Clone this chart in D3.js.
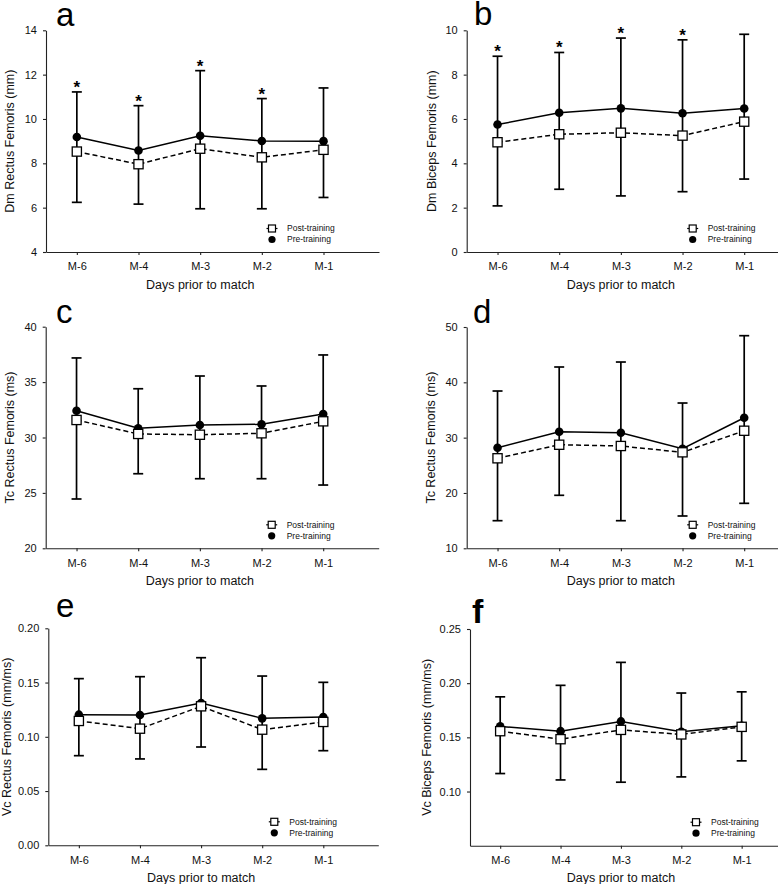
<!DOCTYPE html>
<html>
<head>
<meta charset="utf-8">
<script src="https://cdn.jsdelivr.net/npm/d3@7"></script>
<style>
  body { margin: 0; background: #fff; }
  svg { display: block; }
</style>
</head>
<body>
<div id="chart"></div>
<script>
// categories
var days = ["M-6", "M-4", "M-3", "M-2", "M-1"];
var legendLabels = ["Post-training", "Pre-training"];

// a: Dm Rectus Femoris (mm)
var dmRfPre  = [9.19, 8.58, 9.24, 9.01, 9.0];
var dmRfPost = [8.53, 7.96, 8.66, 8.27, 8.61];
var dmRfUp   = [11.22, 10.6, 12.18, 10.92, 11.4];
var dmRfLow  = [6.24, 6.16, 5.95, 5.95, 6.46];
var dmRfStar = [1, 1, 1, 1, 0];

// b: Dm Biceps Femoris (mm)
var dmBfPre  = [5.75, 6.28, 6.48, 6.26, 6.47];
var dmBfPost = [4.95, 5.31, 5.38, 5.25, 5.88];
var dmBfUp   = [8.83, 9.0, 9.65, 9.57, 9.82];
var dmBfLow  = [2.08, 2.83, 2.53, 2.72, 3.29];
var dmBfStar = [1, 1, 1, 1, 0];

// c: Tc Rectus Femoris (ms)
var tcRfPre  = [32.42, 30.83, 31.13, 31.19, 32.12];
var tcRfPost = [31.58, 30.32, 30.25, 30.38, 31.46];
var tcRfUp   = [37.18, 34.4, 35.55, 34.65, 37.45];
var tcRfLow  = [24.45, 26.73, 26.28, 26.28, 25.71];

// d: Tc (second muscle), label as printed
var tcBfPre  = [28.18, 31.07, 30.89, 28.0, 33.6];
var tcBfPost = [26.27, 28.72, 28.49, 27.35, 31.25];
var tcBfUp   = [38.43, 42.77, 43.67, 36.26, 48.43];
var tcBfLow  = [14.99, 19.58, 14.99, 15.84, 18.13];

// e: Vc Rectus Femoris (mm/ms)
var vcRfPre  = [0.1204, 0.1201, 0.1312, 0.117, 0.1183];
var vcRfPost = [0.1146, 0.1075, 0.1281, 0.1066, 0.1137];
var vcRfUp   = [0.1536, 0.1554, 0.1729, 0.156, 0.1502];
var vcRfLow  = [0.0826, 0.0796, 0.0906, 0.070, 0.0872];

// f: Vc Biceps Femoris (mm/ms)
var vcBfPre  = [0.1601, 0.1557, 0.1647, 0.1551, 0.1606];
var vcBfPost = [0.1557, 0.1483, 0.1569, 0.1527, 0.1597];
var vcBfUp   = [0.1874, 0.198, 0.2192, 0.1909, 0.192];
var vcBfLow  = [0.1166, 0.1107, 0.1086, 0.1135, 0.1283];

var none = [0, 0, 0, 0, 0];

var font = "'Liberation Sans', Arial, sans-serif";

var svg = d3.select("#chart")
  .append("svg")
    .attr("width", 778)
    .attr("height", 884);

var panels = [
  {letter: "a", lx: 56, ly: 26, left: 46, top: 30.3, bottom: 252, width: 333,
   domain: [4, 14], ticks: [4, 6, 8, 10, 12, 14], fmt: d3.format("d"), tOff: 36,
   title: "Dm Rectus Femoris (mm)", pre: dmRfPre, post: dmRfPost, up: dmRfUp, low: dmRfLow, star: dmRfStar},
  {letter: "b", lx: 474, ly: 25, left: 466.7, top: 30.3, bottom: 252, width: 333,
   domain: [0, 10], ticks: [0, 2, 4, 6, 8, 10], fmt: d3.format("d"), tOff: 35,
   title: "Dm Biceps Femoris (mm)", pre: dmBfPre, post: dmBfPost, up: dmBfUp, low: dmBfLow, star: dmBfStar},
  {letter: "c", lx: 56, ly: 323.3, left: 45.7, top: 326.7, bottom: 548.3, width: 333,
   domain: [20, 40], ticks: [20, 25, 30, 35, 40], fmt: d3.format("d"), tOff: 36,
   title: "Tc Rectus Femoris (ms)", pre: tcRfPre, post: tcRfPost, up: tcRfUp, low: tcRfLow, star: none},
  {letter: "d", lx: 473, ly: 323.3, left: 466.7, top: 327, bottom: 548.3, width: 333,
   domain: [10, 50], ticks: [10, 20, 30, 40, 50], fmt: d3.format("d"), tOff: 36,
   title: "Tc Rectus Femoris (ms)", pre: tcBfPre, post: tcBfPost, up: tcBfUp, low: tcBfLow, star: none},
  {letter: "e", lx: 56, ly: 617, left: 48.3, top: 628.3, bottom: 845.3, width: 330,
   domain: [0, 0.2], ticks: [0, 0.05, 0.1, 0.15, 0.2], fmt: d3.format(".2f"), tOff: 41.6,
   title: "Vc Rectus Femoris (mm/ms)", pre: vcRfPre, post: vcRfPost, up: vcRfUp, low: vcRfLow, star: none},
  {letter: "f", lx: 472, ly: 623, left: 470, top: 629, bottom: 845.7, width: 326,
   domain: [0.05, 0.25], ticks: [0.1, 0.15, 0.2, 0.25], fmt: d3.format(".2f"), tOff: 43,
   title: "Vc Biceps Femoris (mm/ms)", pre: vcBfPre, post: vcBfPost, up: vcBfUp, low: vcBfLow, star: none, bold: true}
];

panels.forEach(function(p) {
  var g = svg.append("g");

  var x = d3.scaleLinear()
    .domain([-0.5, 4.9])
    .range([p.left, p.left + p.width]);
  var y = d3.scaleLinear()
    .domain(p.domain)
    .range([p.bottom, p.top]);

  // X axis
  var xa = g.append("g")
    .attr("transform", "translate(0," + p.bottom + ")")
    .call(d3.axisBottom(x)
      .tickValues([0, 1, 2, 3, 4])
      .tickFormat(function(i) { return days[i]; })
      .tickSize(3).tickSizeOuter(0).tickPadding(7.5));
  // Y axis
  var ya = g.append("g")
    .attr("transform", "translate(" + p.left + ",0)")
    .call(d3.axisLeft(y)
      .tickValues(p.ticks)
      .tickFormat(p.fmt)
      .tickSize(3).tickSizeOuter(0).tickPadding(6));

  [xa, ya].forEach(function(a) {
    a.attr("font-family", font).attr("font-size", 11);
    a.selectAll("path, line").attr("stroke", "#222").attr("stroke-width", 1.1);
    a.selectAll("text").attr("fill", "#111");
  });

  // axis titles
  g.append("text")
    .attr("x", x(2))
    .attr("y", p.bottom + 36.5)
    .attr("text-anchor", "middle")
    .attr("font-family", font)
    .attr("font-size", 12.5)
    .attr("fill", "#111")
    .text("Days prior to match");

  var cy = (p.top + p.bottom) / 2;
  g.append("text")
    .attr("transform", "translate(" + (p.left - p.tOff) + "," + cy + ") rotate(-90)")
    .attr("dy", "0.35em")
    .attr("text-anchor", "middle")
    .attr("font-family", font)
    .attr("font-size", 12.5)
    .attr("fill", "#111")
    .text(p.title);

  // panel letter
  g.append("text")
    .attr("x", p.lx)
    .attr("y", p.ly)
    .attr("font-family", font)
    .attr("font-size", p.bold ? 34 : 33)
    .attr("font-weight", p.bold ? "bold" : "normal")
    .attr("fill", "#000")
    .text(p.letter);

  var idx = [0, 1, 2, 3, 4];

  // error bars
  var eb = g.append("g").attr("stroke", "#000").attr("stroke-width", 1.7);
  eb.selectAll(".v").data(idx).enter().append("line")
    .attr("x1", function(i) { return x(i); })
    .attr("x2", function(i) { return x(i); })
    .attr("y1", function(i) { return y(p.low[i]); })
    .attr("y2", function(i) { return y(p.up[i]); });
  eb.selectAll(".cu").data(idx).enter().append("line")
    .attr("x1", function(i) { return x(i) - 5; })
    .attr("x2", function(i) { return x(i) + 5; })
    .attr("y1", function(i) { return y(p.up[i]); })
    .attr("y2", function(i) { return y(p.up[i]); });
  eb.selectAll(".cl").data(idx).enter().append("line")
    .attr("x1", function(i) { return x(i) - 5; })
    .attr("x2", function(i) { return x(i) + 5; })
    .attr("y1", function(i) { return y(p.low[i]); })
    .attr("y2", function(i) { return y(p.low[i]); });

  // significance stars
  g.selectAll(".star").data(idx.filter(function(i) { return p.star[i]; })).enter()
    .append("text")
      .attr("x", function(i) { return x(i); })
      .attr("y", function(i) { return y(p.up[i]) + 1; })
      .attr("text-anchor", "middle")
      .attr("font-family", font)
      .attr("font-size", 17)
      .attr("font-weight", "bold")
      .text("*");

  // lines
  var line = function(vals) {
    return d3.line()
      .x(function(i) { return x(i); })
      .y(function(i) { return y(vals[i]); })(idx);
  };
  g.append("path")
    .attr("d", line(p.post))
    .attr("fill", "none")
    .attr("stroke", "#000")
    .attr("stroke-width", 1.5)
    .attr("stroke-dasharray", "5,3");
  g.append("path")
    .attr("d", line(p.pre))
    .attr("fill", "none")
    .attr("stroke", "#000")
    .attr("stroke-width", 1.5);

  // markers
  g.selectAll(".pre").data(idx).enter().append("circle")
    .attr("cx", function(i) { return x(i); })
    .attr("cy", function(i) { return y(p.pre[i]); })
    .attr("r", 4.3)
    .attr("fill", "#000");
  g.selectAll(".post").data(idx).enter().append("rect")
    .attr("x", function(i) { return x(i) - 4.6; })
    .attr("y", function(i) { return y(p.post[i]) - 4.6; })
    .attr("width", 9.2)
    .attr("height", 9.2)
    .attr("fill", "#fff")
    .attr("stroke", "#000")
    .attr("stroke-width", 1.3);

  // legend
  var lx = p.left + 226, ly = p.bottom - 23.5;
  var lg = g.append("g").attr("transform", "translate(" + lx + "," + ly + ")");
  lg.append("line").attr("x1", -5.5).attr("x2", 5.5).attr("y1", 0).attr("y2", 0)
    .attr("stroke", "#000").attr("stroke-width", 1.2);
  lg.append("rect").attr("x", -3.5).attr("y", -3.5).attr("width", 7).attr("height", 7)
    .attr("fill", "#fff").attr("stroke", "#000").attr("stroke-width", 1.2);
  lg.append("circle").attr("cx", 0).attr("cy", 11).attr("r", 3.6).attr("fill", "#000");
  lg.selectAll("text").data(legendLabels).enter().append("text")
    .attr("x", 15)
    .attr("y", function(d, i) { return i * 11; })
    .attr("dy", "0.35em")
    .attr("font-family", font)
    .attr("font-size", 8.5)
    .attr("fill", "#111")
    .text(function(d) { return d; });
});
</script>
</body>
</html>
